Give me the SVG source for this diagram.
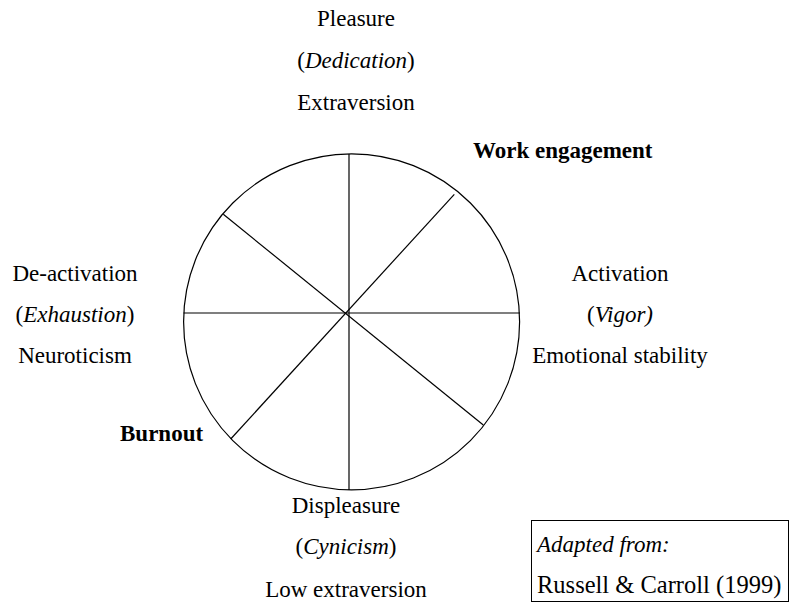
<svg xmlns="http://www.w3.org/2000/svg" width="801" height="606" viewBox="0 0 801 606">
  <style>
    text { font-family: "Liberation Serif", "Times New Roman", serif; font-size: 23px; fill: #000; }
    .c { text-anchor: middle; }
    .b { font-weight: bold; }
    .i { font-style: italic; }
    .ref { font-size: 24.5px; }
    .line { stroke: #000; stroke-width: 1.2; fill: none; }
  </style>
  <rect width="801" height="606" fill="#fff"/>

  <!-- circumplex wheel -->
  <g id="wheel">
    <circle class="line" cx="351.6" cy="321.8" r="168"/>
  </g>

  <!-- spokes -->
  <g id="spokes">
    <line class="line" x1="183.5" y1="313" x2="520" y2="313"/>
    <line class="line" x1="349" y1="154" x2="349" y2="490"/>
    <line class="line" x1="454.3" y1="194.3" x2="230.7" y2="439"/>
    <line class="line" x1="223.3" y1="214.3" x2="483.3" y2="425"/>
  </g>

  <!-- pole labels -->
  <g id="pleasure">
    <text class="c" x="356" y="26">Pleasure</text>
    <text class="c" x="356" y="68">(<tspan class="i">Dedication</tspan>)</text>
    <text class="c" x="356" y="110">Extraversion</text>
  </g>
  <g id="activation">
    <text class="c" x="620" y="281">Activation</text>
    <text class="c" x="620" y="322">(<tspan class="i">Vigor)</tspan></text>
    <text class="c" x="620" y="363">Emotional stability</text>
  </g>
  <g id="deactivation">
    <text class="c" x="75" y="281">De-activation</text>
    <text class="c" x="75" y="322">(<tspan class="i">Exhaustion</tspan>)</text>
    <text class="c" x="75" y="363">Neuroticism</text>
  </g>
  <g id="displeasure">
    <text class="c" x="346" y="513">Displeasure</text>
    <text class="c" x="346" y="554">(<tspan class="i">Cynicism</tspan>)</text>
    <text class="c" x="346" y="597">Low extraversion</text>
  </g>

  <!-- quadrant labels -->
  <g id="work-engagement">
    <text class="b" x="473" y="158">Work engagement</text>
  </g>
  <g id="burnout">
    <text class="b" x="120" y="441">Burnout</text>
  </g>

  <!-- source note -->
  <g id="source">
    <rect x="531.5" y="520.5" width="257" height="81" fill="none" stroke="#000" stroke-width="1"/>
    <text class="i" x="537" y="552">Adapted from:</text>
    <text class="ref" x="537" y="593">Russell &amp; Carroll (1999)</text>
  </g>
</svg>
